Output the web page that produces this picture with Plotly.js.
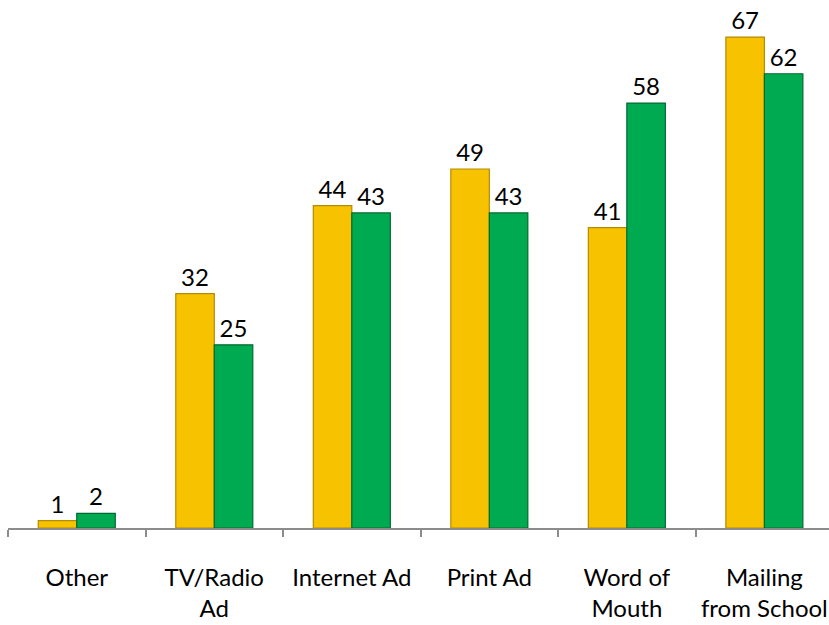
<!DOCTYPE html>
<html>
<head>
<meta charset="utf-8">
<script src="https://cdn.plot.ly/plotly-3.0.1.min.js"></script>
<style>html,body{margin:0;padding:0;background:#fff;}#chart{width:829px;height:625px;}</style>
</head>
<body>
<div id="chart"></div>
<script>
const categories = ["Other", "TV/Radio<br>Ad", "Internet Ad", "Print Ad", "Word of<br>Mouth", "Mailing<br>from School"];
const seriesGold = [1, 32, 44, 49, 41, 67];
const seriesGreen = [2, 25, 43, 43, 58, 62];

const common = {
  type: 'bar',
  x: categories,
  textposition: 'outside',
  cliponaxis: false,
  textfont: {family: 'Lato, "Open Sans", sans-serif', size: 24, color: '#000'},
  hoverinfo: 'none'
};

const traces = [
  Object.assign({}, common, {
    name: 'Series 1',
    y: seriesGold,
    text: seriesGold.map(String),
    marker: {color: '#F7C300', line: {color: '#B58A00', width: 1.2}}
  }),
  Object.assign({}, common, {
    name: 'Series 2',
    y: seriesGreen,
    text: seriesGreen.map(String),
    marker: {color: '#00AA50', line: {color: '#006B30', width: 1.2}}
  })
];

const layout = {
  width: 829,
  height: 625,
  margin: {l: 8, r: 0, t: 10, b: 97},
  paper_bgcolor: '#fff',
  plot_bgcolor: '#fff',
  showlegend: false,
  barmode: 'group',
  bargap: 0.44,
  bargroupgap: 0,
  font: {family: 'Lato, "Open Sans", sans-serif', size: 24, color: '#000'},
  xaxis: {
    type: 'category',
    range: [-0.5, 5.47],
    showline: true,
    linecolor: '#8C8C8C',
    linewidth: 2,
    ticks: 'outside',
    tickson: 'boundaries',
    ticklen: 7,
    tickwidth: 2,
    tickcolor: '#8C8C8C',
    tickangle: 0,
    ticklabelstandoff: 27,
    tickfont: {family: 'Lato, "Open Sans", sans-serif', size: 24, color: '#000'},
    showgrid: false,
    zeroline: false,
    fixedrange: true
  },
  yaxis: {
    range: [0, 70.7],
    visible: false,
    showgrid: false,
    zeroline: false,
    fixedrange: true
  }
};

Plotly.newPlot('chart', traces, layout, {displayModeBar: false, staticPlot: true});
</script>
</body>
</html>
